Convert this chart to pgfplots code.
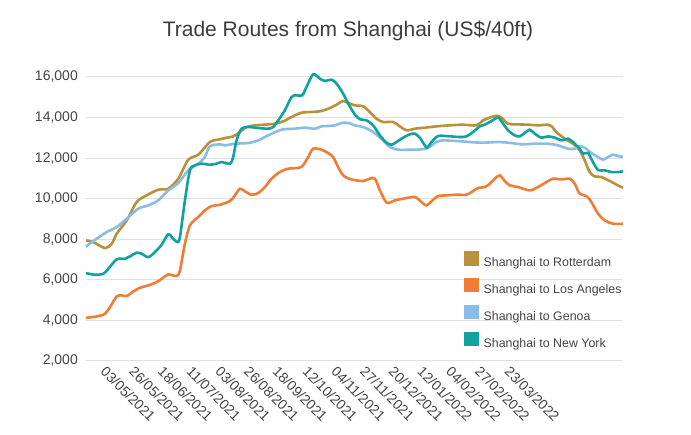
\documentclass[border=0pt]{standalone}
\usepackage{fontspec}
\setmainfont{Liberation Sans}
\usepackage{pgfplots}
\pgfplotsset{compat=1.18}

\definecolor{rotterdam}{HTML}{B8913A}
\definecolor{losangeles}{HTML}{EF7D35}
\definecolor{genoa}{HTML}{8ABDE5}
\definecolor{newyork}{HTML}{10A2A0}
\definecolor{gridgray}{HTML}{E0E0E0}
\definecolor{labelgray}{HTML}{444444}
\definecolor{titlegray}{HTML}{3C3C3C}

\begin{document}
\begin{tikzpicture}
\path[use as bounding box] (0pt,0pt) rectangle (691pt,435pt);

% x = days from 03/05/2021
\begin{axis}[
  at={(86pt,74pt)}, anchor=south west,
  width=537pt, height=284pt, scale only axis,
  xmin=-11.6, xmax=418.9,
  ymin=2000, ymax=16000,
  clip=false,
  axis line style={draw=none},
  major tick length=0pt,
  ymajorgrids,
  grid style={gridgray, line width=1pt},
  ytick={2000,4000,...,16000},
  scaled y ticks=false,
  /pgf/number format/1000 sep={,},
  /pgf/number format/assume math mode=true,
  yticklabel style={anchor=east, inner sep=0pt, xshift=-8pt,
    font=\fontsize{14}{16}\selectfont, text=labelgray},
  xtick={0,23,46,69,92,115,138,162,185,208,231,254,277,300,324},
  xticklabels={03/05/2021,26/05/2021,18/06/2021,11/07/2021,03/08/2021,26/08/2021,
    18/09/2021,12/10/2021,04/11/2021,27/11/2021,20/12/2021,12/01/2022,04/02/2022,
    27/02/2022,23/03/2022},
  xticklabel style={anchor=north west, inner sep=0pt, xshift=6.5pt, yshift=-4.5pt,
    rotate=-45, font=\fontsize{14}{16}\selectfont, text=labelgray},
  legend style={at={(0.7039,0.3873)}, anchor=north west, draw=none, fill=none,
    inner sep=0pt, outer sep=0pt, row sep=9.7pt, column sep=5pt,
    font=\fontsize{12.4}{14}\selectfont, text=labelgray,
    nodes={inner sep=0pt}},
  legend cell align=left,
  legend image code/.code={\fill[#1] (0pt,-1.35pt) rectangle (12pt,10.65pt);},
  every axis plot/.append style={line width=2.6pt, smooth, tension=0.5},
]

\addplot[rotterdam] coordinates {
(-11.6,7944) (-5.8,7862) (3.6,7566) (9.0,7780) (13,8273) (21,8931) (29,9835)
(37,10164) (46.3,10443) (54.3,10493) (62.4,10986) (70.4,11923) (78.4,12169)
(87.7,12794) (95.8,12930) (99.8,12990) (106.4,13074) (111.8,13287) (117.1,13534)
(123.8,13616) (131.8,13649) (139.8,13698) (146.5,13813) (153.2,14027) (161.2,14241)
(169.2,14274) (177.2,14323) (183.9,14471) (189.3,14636) (194.6,14816) (198.6,14718)
(203.9,14603) (210.6,14553) (215.9,14274) (221.3,13945) (226.6,13781) (234.6,13781)
(240.0,13567) (245.4,13370) (252.0,13452) (260.0,13501) (269.4,13567) (280.0,13616)
(290.7,13649) (301.4,13616) (306.7,13863) (312.1,13994) (317.5,14093) (321.5,13994)
(326.8,13698) (334.8,13665) (342.8,13649) (350.8,13616) (358.8,13649) (361.5,13583)
(365.5,13287) (372.2,12959) (378.8,12712) (384.2,12383) (388.2,11890) (392.2,11315)
(396.2,11101) (401.6,11068) (408.3,10871) (414.9,10657) (418.9,10542)
};
\addlegendentry{Shanghai to Rotterdam}

\addplot[losangeles] coordinates {
(-11.6,4130) (-3.1,4196) (3.6,4328) (7.6,4656) (13,5182) (17,5232) (21,5199)
(26.3,5429) (31.7,5610) (38.3,5725) (45,5889) (50.3,6103) (54.3,6268) (58.3,6218)
(61.5,6202) (63.7,6465) (67.7,7780) (71.7,8684) (78.4,9095) (83.7,9424) (89.1,9638)
(95.8,9700) (103.8,9884) (107.8,10164) (111.8,10493) (115.8,10361) (121.2,10197)
(126.4,10279) (131.8,10575) (137.2,10986) (143.8,11315) (150.5,11479) (157.2,11512)
(161.7,11594) (166.5,12054) (170.5,12465) (177.2,12416) (182.5,12252) (186.5,12054)
(190.5,11561) (194.6,11150) (199.9,10970) (205.3,10904) (210.6,10871) (215.9,10986)
(220.0,10986) (224.0,10410) (228.0,9917) (230.6,9786) (236.0,9917) (242.6,9999)
(252.0,10082) (257.4,9835) (261.4,9671) (266.7,9950) (270.7,10131) (277.4,10164)
(285.4,10197) (293.4,10197) (297.4,10328) (302.7,10526) (308.1,10575) (312.1,10739)
(316.1,10986) (320.1,11150) (324.1,10871) (328.1,10657) (334.8,10575) (344.1,10410)
(350.8,10575) (357.5,10821) (362.8,10986) (369.6,10953) (376.2,10986) (380.2,10739)
(384.2,10246) (389.6,10131) (393.6,9835) (398.9,9260) (404.3,8931) (410.9,8766)
(418.9,8766)
};
\addlegendentry{Shanghai to Los Angeles}

\addplot[genoa] coordinates {
(-11.6,7648) (-3.1,8027) (5,8355) (13,8602) (21,9013) (30.3,9506) (38.3,9671)
(46.3,9917) (54.3,10410) (62.4,10772) (70.4,11397) (78.4,11726) (83.7,12054)
(87.7,12580) (95.8,12679) (99.8,12630) (107.8,12712) (118.4,12745) (126.4,12876)
(134.5,13123) (145.2,13402) (155.8,13452) (163.9,13501) (171.9,13452) (177.2,13567)
(182.5,13583) (187.9,13616) (194.6,13748) (199.9,13715) (203.9,13616) (210.6,13534)
(218.6,13287) (226.6,12876) (232.0,12548) (238.6,12416) (248.0,12416) (257.4,12432)
(262.7,12515) (269.4,12794) (274.7,12876) (285.4,12843) (296.1,12794) (306.7,12761)
(318.8,12794) (329.5,12745) (337.5,12679) (348.2,12712) (358.8,12712) (366.8,12630)
(374.8,12465) (380.2,12465) (384.2,12580) (388.2,12515) (393.6,12252) (398.9,12054)
(402.9,11923) (406.9,12054) (410.9,12169) (414.9,12104) (418.9,12054)
};
\addlegendentry{Shanghai to Genoa}

\addplot[newyork] coordinates {
(-11.6,6333) (-4.4,6251) (2.3,6300) (6.3,6547) (13,7007) (19.6,7040) (23.6,7155)
(29,7336) (33,7287) (38.3,7122) (43.7,7369) (49,7731) (54.3,8240) (58.3,8027)
(61.5,7862) (63.7,8109) (67.7,9917) (71.7,11397) (75.7,11643) (81,11726)
(87.7,11676) (93.1,11726) (97.1,11808) (103.8,11726) (106.4,12054) (109.1,12876)
(113.1,13452) (118.4,13534) (126.4,13485) (134.5,13452) (138.5,13534) (142.5,13863)
(147.8,14356) (153.2,15014) (157.2,15096) (161.7,15096) (165.2,15507) (170.5,16132)
(175.9,15918) (179.9,15803) (185.3,15868) (189.3,15671) (194.6,15178) (198.6,14685)
(203.9,14160) (207.9,13920) (213.3,13863) (218.6,13616) (224.0,13123) (229.3,12761)
(233.3,12662) (237.3,12794) (242.6,13008) (248.0,13172) (252.0,13205) (256.0,13008)
(260.0,12630) (261.9,12515) (265.4,12794) (270.7,13090) (280.0,13074) (288.1,13041)
(293.4,13074) (298.7,13287) (304.1,13567) (308.1,13649) (313.5,13830) (318.8,13994)
(322.8,13698) (326.8,13370) (332.1,13123) (336.1,13074) (340.1,13239) (344.1,13402)
(348.2,13205) (353.5,13008) (358.8,13074) (364.2,13008) (369.6,12876) (374.8,12959)
(378.8,12794) (384.2,12465) (386.9,12219) (390.9,12252) (394.9,11794) (398.9,11416)
(404.3,11397) (409.6,11315) (414.9,11315) (418.9,11348)
};
\addlegendentry{Shanghai to New York}
\end{axis}

\node[anchor=base, inner sep=0pt, text=titlegray, font=\fontsize{21}{25}\selectfont]
  at (348pt,398.3pt) {Trade Routes from Shanghai (US\$/40ft)};
\end{tikzpicture}
\end{document}
